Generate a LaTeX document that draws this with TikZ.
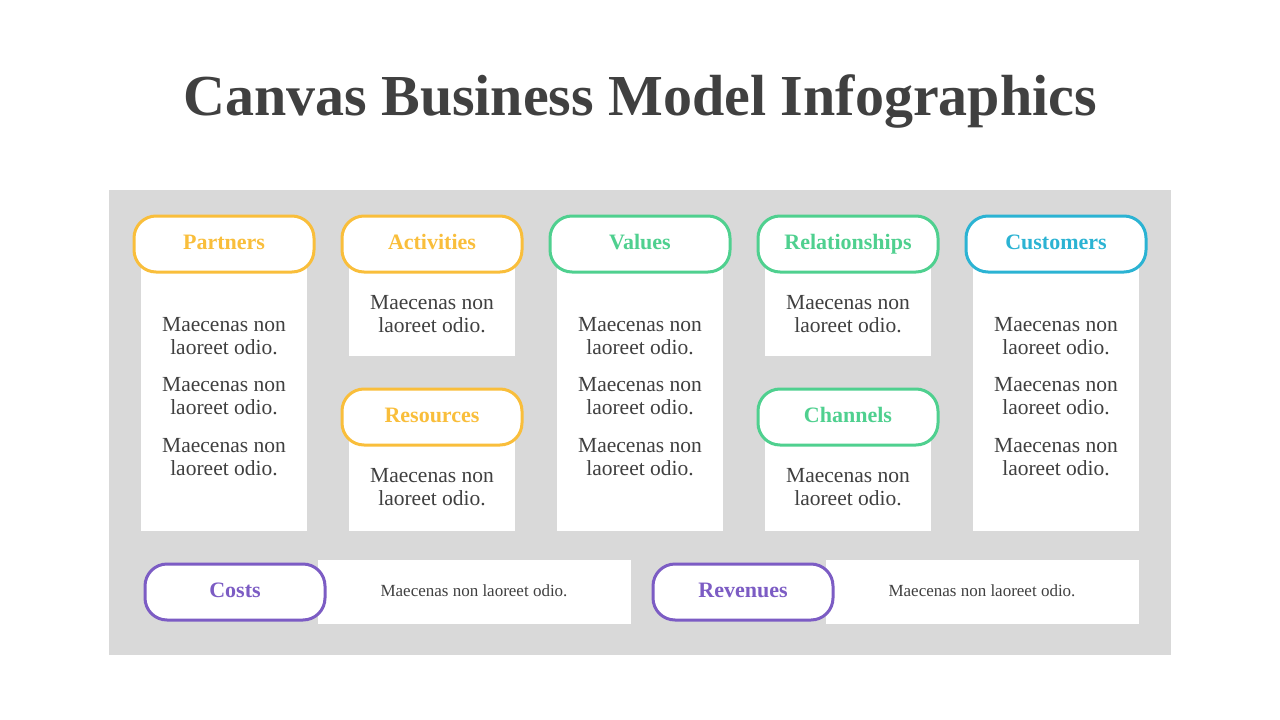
\documentclass[tikz,border=0pt]{standalone}
\usepackage{fontspec}
\setmainfont{Liberation Serif}
\usetikzlibrary{positioning}
\definecolor{ink}{HTML}{404040}
\definecolor{panel}{HTML}{D9D9D9}
\definecolor{cyel}{HTML}{F9BE3B}
\definecolor{cgrn}{HTML}{4FD08F}
\definecolor{cblu}{HTML}{2BB3D3}
\definecolor{cpur}{HTML}{7C5CC4}
\tikzset{
  pill/.style={draw=#1, text=#1, fill=white, line width=3pt, rounded corners=22pt,
    minimum width=180pt, minimum height=56pt, text height=15pt, text depth=4pt,
    font=\fontsize{22}{24}\selectfont\bfseries},
  card/.style={fill=white, draw=none},
  body/.style={text=ink, align=center, font=\fontsize{21.5}{23}\selectfont},
  small/.style={text=ink, font=\fontsize{17}{19}\selectfont}
}
\newcommand{\txt}{Maecenas non\\laoreet odio.}
\begin{document}
\begin{tikzpicture}[x=1pt,y=-1pt]
\useasboundingbox (0,0) rectangle (1280,720);
\node[text=ink, font=\fontsize{58}{64}\selectfont\bfseries] (title) at (640,101) {Canvas Business Model Infographics};
\fill[panel] (109,190) rectangle (1171,655);
% tall cards
\foreach \cx in {224,640,1056} {
  \fill[white] (\cx-83,245) rectangle (\cx+83,531);
  \node[body] at (\cx,336) {\txt};
  \node[body] at (\cx,396) {\txt};
  \node[body] at (\cx,457) {\txt};
}
% split cards
\foreach \cx in {432,848} {
  \fill[white] (\cx-83,245) rectangle (\cx+83,356);
  \fill[white] (\cx-83,418) rectangle (\cx+83,531);
  \node[body] at (\cx,314) {\txt};
  \node[body] at (\cx,487) {\txt};
}
\node[pill=cyel] (partners) at (224,244) {Partners};
\node[pill=cyel] (activities) at (432,244) {Activities};
\node[pill=cgrn] (values) at (640,244) {Values};
\node[pill=cgrn] (relations) at (848,244) {Relationships};
\node[pill=cblu] (customers) at (1056,244) {Customers};
\node[pill=cyel] (resources) at (432,417) {Resources};
\node[pill=cgrn] (channels) at (848,417) {Channels};
% bottom row
\fill[white] (318,560) rectangle (631,624);
\fill[white] (826,560) rectangle (1139,624);
\node[small] at (474,591) {Maecenas non laoreet odio.};
\node[small] at (982,591) {Maecenas non laoreet odio.};
\node[pill=cpur] (costs) at (235,592) {Costs};
\node[pill=cpur] (revenues) at (743,592) {Revenues};
\end{tikzpicture}
\end{document}
